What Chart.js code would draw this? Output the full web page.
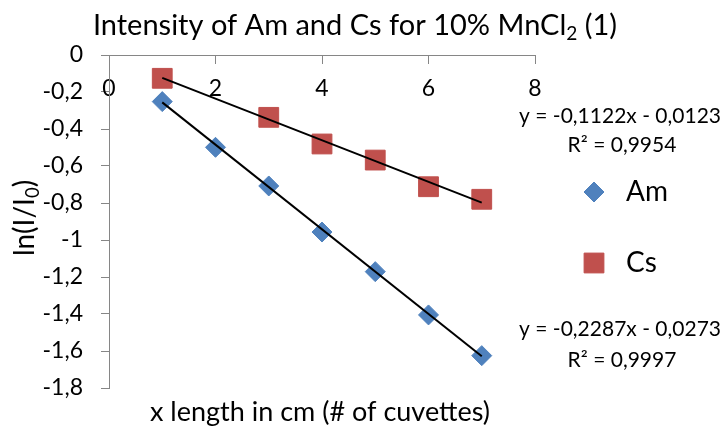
<!DOCTYPE html>
<html>
<head>
<meta charset="utf-8">
<script src="https://cdn.jsdelivr.net/npm/chart.js"></script>
<style>
  body { margin: 0; background: #fff; }
  canvas { display: block; }
</style>
</head>
<body>
<canvas id="chart" width="725" height="430"></canvas>
<script>
// data
var cuvettesAm = [1, 2, 3, 4, 5, 6, 7];
var intensityAm = [-0.252, -0.499, -0.708, -0.957, -1.171, -1.405, -1.625];
var cuvettesCs = [1, 3, 4, 5, 6, 7];
var intensityCs = [-0.126, -0.337, -0.481, -0.568, -0.712, -0.780];
// linear trendlines (start / end)
var trendX = [1, 7];
var trendAm = [-0.256, -1.628];
var trendCs = [-0.124, -0.798];
var xTicks = [0, 2, 4, 6, 8];
var yTicks = [0, -0.2, -0.4, -0.6, -0.8, -1, -1.2, -1.4, -1.6, -1.8];
var seriesNames = ['Am', 'Cs'];
var eqCs = ['y = -0,1122x - 0,0123', 'R² = 0,9954'];
var eqAm = ['y = -0,2287x - 0,0273', 'R² = 0,9997'];

var FONT = 'Lato, "Open Sans", sans-serif';
var blue = '#4F81BD';
var red = '#C0504D';
var axisGrey = '#868686';

function toPoints(xs, ys) {
    return xs.map(function (x, i) { return { x: x, y: ys[i] }; });
}

function commaNum(v) {
    var r = Math.round(v * 10) / 10;
    if (r === 0) { return '0'; }
    return String(r).replace('.', ',');
}

// draws text made of normal and subscript parts
function drawRich(ctx, parts, x, y, size, align) {
    var total = 0;
    parts.forEach(function (p) {
        ctx.font = (p.sub ? size * 0.66 : size) + 'px ' + FONT;
        p.w = ctx.measureText(p.t).width;
        total += p.w;
    });
    var cx = align === 'center' ? x - total / 2 : (align === 'right' ? x - total : x);
    ctx.textAlign = 'left';
    ctx.textBaseline = 'middle';
    parts.forEach(function (p) {
        ctx.font = (p.sub ? size * 0.66 : size) + 'px ' + FONT;
        ctx.fillText(p.t, cx, p.sub ? y + size * 0.28 : y);
        cx += p.w;
    });
}

function legendMarker(ctx, style, color, x, y, r) {
    ctx.save();
    ctx.fillStyle = color;
    ctx.strokeStyle = color;
    ctx.lineWidth = 1;
    if (Chart.helpers && Chart.helpers.drawPoint) {
        Chart.helpers.drawPoint(ctx, { pointStyle: style, radius: r, borderWidth: 1, rotation: 0 }, x, y);
    }
    ctx.restore();
}

var decorPlugin = {
    id: 'decor',
    afterDraw: function (chart) {
        var ctx = chart.ctx;
        ctx.save();
        ctx.fillStyle = '#000';
        // title
        drawRich(ctx, [{ t: 'Intensity of Am and Cs for 10% MnCl' }, { t: '2', sub: true }, { t: ' (1)' }], 355, 26, 29, 'center');
        // x axis title
        drawRich(ctx, [{ t: 'x length in cm (# of cuvettes)' }], 320, 412, 27, 'center');
        // y axis title
        ctx.save();
        ctx.translate(25, 218);
        ctx.rotate(-Math.PI / 2);
        drawRich(ctx, [{ t: 'ln(I/I' }, { t: '0', sub: true }, { t: ')' }], 0, 0, 28, 'center');
        ctx.restore();
        // trendline equations
        drawRich(ctx, [{ t: eqCs[0] }], 721, 116, 21, 'right');
        drawRich(ctx, [{ t: eqCs[1] }], 622, 145, 21, 'center');
        drawRich(ctx, [{ t: eqAm[0] }], 721, 329, 21, 'right');
        drawRich(ctx, [{ t: eqAm[1] }], 622, 360, 21, 'center');
        // legend
        var ds = chart.data.datasets;
        legendMarker(ctx, ds[0].pointStyle, ds[0].backgroundColor, 594, 192, ds[0].pointRadius);
        legendMarker(ctx, ds[1].pointStyle, ds[1].backgroundColor, 594, 263, ds[1].pointRadius);
        ctx.fillStyle = '#000';
        drawRich(ctx, [{ t: seriesNames[0] }], 626, 192, 28, 'left');
        drawRich(ctx, [{ t: seriesNames[1] }], 626, 263, 28, 'left');
        ctx.restore();
    }
};

var ctx = document.getElementById('chart').getContext('2d');
var chart = new Chart(ctx, {
    type: 'scatter',
    data: {
        datasets: [{
            label: seriesNames[0],
            data: toPoints(cuvettesAm, intensityAm),
            pointStyle: 'rectRot',
            pointRadius: 10,
            backgroundColor: blue,
            borderColor: blue,
            borderWidth: 1,
            order: 2
        }, {
            label: seriesNames[1],
            data: toPoints(cuvettesCs, intensityCs),
            pointStyle: 'rect',
            pointRadius: 14,
            backgroundColor: red,
            borderColor: red,
            borderWidth: 1,
            order: 2
        }, {
            type: 'line',
            label: 'trend Am',
            data: toPoints(trendX, trendAm),
            borderColor: '#000',
            borderWidth: 2,
            pointRadius: 0,
            fill: false,
            order: 1
        }, {
            type: 'line',
            label: 'trend Cs',
            data: toPoints(trendX, trendCs),
            borderColor: '#000',
            borderWidth: 2,
            pointRadius: 0,
            fill: false,
            order: 1
        }]
    },
    options: {
        responsive: false,
        animation: false,
        layout: { padding: { left: 0, top: 55, right: 190, bottom: 42 } },
        plugins: {
            legend: { display: false },
            tooltip: { enabled: false },
            title: { display: false }
        },
        scales: {
            x: {
                type: 'linear',
                position: { y: 0 },
                min: 0,
                max: 8,
                afterBuildTicks: function (scale) {
                    scale.ticks = xTicks.map(function (v) { return { value: v }; });
                },
                grid: { drawOnChartArea: false, drawTicks: true, tickLength: 8, color: axisGrey },
                border: { color: axisGrey, width: 1 },
                ticks: {
                    color: '#000',
                    font: { family: FONT, size: 23 },
                    padding: 12,
                    maxRotation: 0,
                    callback: function (v) { return commaNum(v); }
                }
            },
            y: {
                type: 'linear',
                position: 'left',
                min: -1.8,
                max: 0,
                afterBuildTicks: function (scale) {
                    scale.ticks = yTicks.map(function (v) { return { value: v }; });
                },
                afterFit: function (scale) { scale.width = 109; },
                grid: { drawOnChartArea: false, drawTicks: true, tickLength: 8, color: axisGrey },
                border: { color: axisGrey, width: 1 },
                ticks: {
                    color: '#000',
                    font: { family: FONT, size: 23 },
                    padding: 18,
                    callback: function (v) { return commaNum(v); }
                }
            }
        }
    },
    plugins: [decorPlugin]
});
</script>
</body>
</html>
